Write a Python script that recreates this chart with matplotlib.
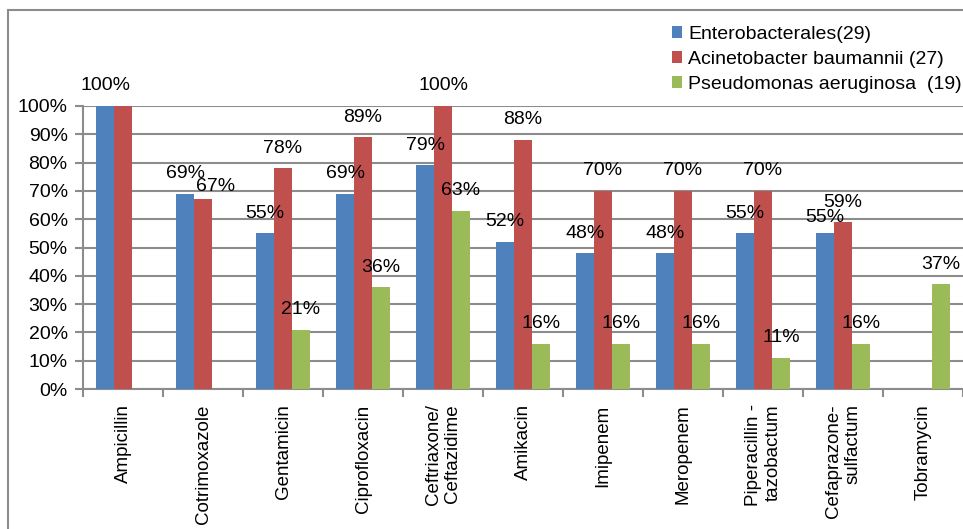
import numpy as np
import matplotlib.pyplot as plt
from matplotlib.patches import Rectangle

plt.rcParams['font.family'] = ['Liberation Sans', 'DejaVu Sans']

# data
drugs = ["Ampicillin", "Cotrimoxazole", "Gentamicin", "Ciprofloxacin",
         "Ceftriaxone/\nCeftazidime", "Amikacin", "Imipenem", "Meropenem",
         "Piperacillin -\ntazobactum", "Cefaprazone-\nsulfactum", "Tobramycin"]
series_names = ["Enterobacterales(29)", "Acinetobacter baumannii (27)",
                "Pseudomonas aeruginosa  (19)"]
entero = [100, 69, 55, 69, 79, 52, 48, 48, 55, 55, np.nan]
acineto = [100, 67, 78, 89, 100, 88, 70, 70, 70, 59, np.nan]
pseudo = [np.nan, np.nan, 21, 36, 63, 16, 16, 16, 11, 16, 37]
colors = ["#4F81BD", "#C0504D", "#9BBB59"]

# label nudges in pixels (series index, category index) -> (dx, dy)
nudges = {(1, 1): (13, -7), (0, 9): (0, -4)}
hidden = {(1, 0)}  # red 100% label for Ampicillin not shown

fig = plt.figure(figsize=(9.63, 5.29), dpi=100)
ax = fig.add_axes([83/963, 1-389/529, 880/963, (389-106)/529])

grid_c = "#8C8C8C"
x = np.arange(len(drugs))
w = 0.225
for i, (vals, name, c) in enumerate(zip([entero, acineto, pseudo], series_names, colors)):
    pos = x + (i-1)*w
    v = np.array(vals, dtype=float)
    ax.bar(pos, v/100, width=w, color=c, label=name, zorder=3)
    for j, val in enumerate(v):
        if np.isnan(val) or (i, j) in hidden:
            continue
        dx, dy = nudges.get((i, j), (0, 0))
        ax.annotate(f"{val:.0f}%", (pos[j], val/100), xytext=(dx, 20+dy),
                    textcoords="offset pixels", ha="center", va="center",
                    fontsize=14, color="black", zorder=5)

ax.set_xlim(-0.5, len(drugs)-0.5)
ax.set_ylim(0, 1)
ax.set_yticks(np.arange(0, 1.01, 0.1))
ax.set_yticklabels([f"{int(round(t*100))}%" for t in np.arange(0, 1.01, 0.1)], fontsize=14)
ax.set_xticks(x)
ax.set_xticklabels(drugs, rotation=90, fontsize=13.5, va="top", ha="center",
                   multialignment="right")
ax.set_xticks(np.arange(-0.5, len(drugs), 1), minor=True)
ax.tick_params(axis="x", which="major", length=0, pad=11)
ax.tick_params(axis="x", which="minor", length=6, color=grid_c, width=1.5)
ax.tick_params(axis="y", length=6, color=grid_c, width=1.5, pad=5)
ax.yaxis.grid(True, color=grid_c, linewidth=1.5, zorder=0)
ax.set_axisbelow(True)
for s in ["top", "right"]:
    ax.spines[s].set_visible(False)
for s in ["left", "bottom"]:
    ax.spines[s].set_color(grid_c)
    ax.spines[s].set_linewidth(1.5)

# outer chart frame
fig.patches.append(Rectangle((8/963, -0.1), 1.2, 1-10/529+0.1, transform=fig.transFigure,
                             fill=False, edgecolor="#8C8C8C", linewidth=1.5))

fig.legend(loc="upper left", bbox_to_anchor=(662/963, 1-16/529), frameon=False,
           fontsize=14, handlelength=0.55, handleheight=0.55, handletextpad=0.3,
           labelspacing=0.42, borderpad=0)

fig.savefig("out.png", dpi=100)
